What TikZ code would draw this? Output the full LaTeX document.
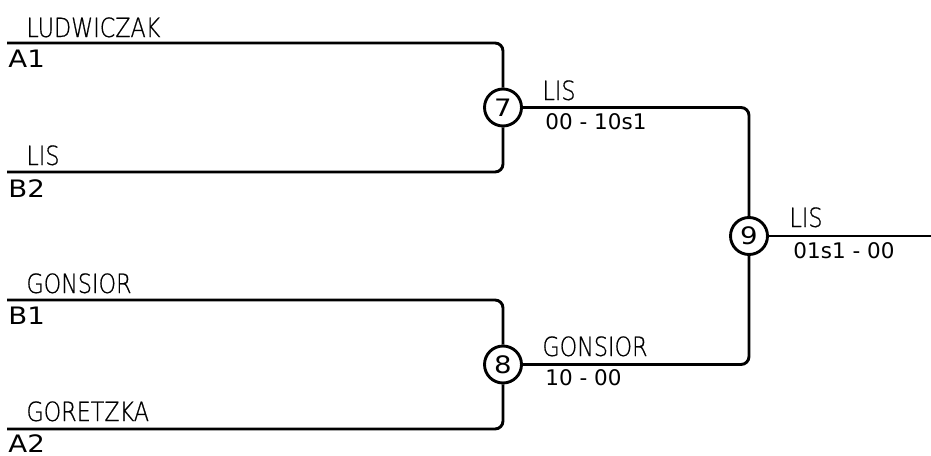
\documentclass[tikz,border=0pt]{standalone}
\usepackage{fontspec}
\setmainfont{DejaVu Sans}
\newfontfamily\namefont{DejaVuSans-ExtraLight}[Extension=.ttf,FakeStretch=0.84,FakeBold=0.6]
\newfontfamily\seedfont{DejaVu Sans}[FakeStretch=1.15]

\begin{document}
\begin{tikzpicture}[x=1pt,y=-1pt,line width=2.9pt,
	match/.style={circle,draw,minimum size=37pt,inner sep=0pt,font=\seedfont\fontsize{24}{24}\selectfont},
	player/.style={anchor=base west,inner sep=0pt,font=\namefont\fontsize{26.5}{26.5}\selectfont},
	seed/.style={anchor=north west,inner sep=0pt,font=\seedfont\fontsize{24}{24}\selectfont},
	score/.style={anchor=base west,inner sep=0pt,font=\fontsize{21.5}{21.5}\selectfont},
	bracket/.style={rounded corners=8pt}]
	\useasboundingbox (0,0) rectangle (931,455);
	%matches
	\node[match] (m7) at (503,107.5) {7};
	\node[match] (m8) at (503,364.5) {8};
	\node[match] (m9) at (749,236) {9};
	%entries
	\coordinate (a1) at (7,43);
	\coordinate (b2) at (7,172);
	\coordinate (b1) at (7,300);
	\coordinate (a2) at (7,429);
	\coordinate (final) at (931,236);
	%lines
	\draw[bracket] (a1) -| (m7);
	\draw[bracket] (b2) -| (m7);
	\draw[bracket] (b1) -| (m8);
	\draw[bracket] (a2) -| (m8);
	\draw[bracket] (m7) -| (m9);
	\draw[bracket] (m8) -| (m9);
	\draw (m9) -- (final);
	%players
	\node[player] (pa1) at (25,37) {LUDWICZAK};
	\node[player] (pb2) at (25,165) {LIS};
	\node[player] (pb1) at (25,293) {GONSIOR};
	\node[player] (pa2) at (25,421) {GORETZKA};
	\node[seed] (sa1) at (7,49) {A1};
	\node[seed] (sb2) at (7,178) {B2};
	\node[seed] (sb1) at (7,306) {B1};
	\node[seed] (sa2) at (7,433) {A2};
	%winners
	\node[player] (w7) at (541,100) {LIS};
	\node[score] (r7) at (544,129) {00 - 10s1};
	\node[player] (w8) at (541,356) {GONSIOR};
	\node[score] (r8) at (544,385) {10 - 00};
	\node[player] (w9) at (788,227) {LIS};
	\node[score] (r9) at (792,258) {01s1 - 00};
\end{tikzpicture}
\end{document}
